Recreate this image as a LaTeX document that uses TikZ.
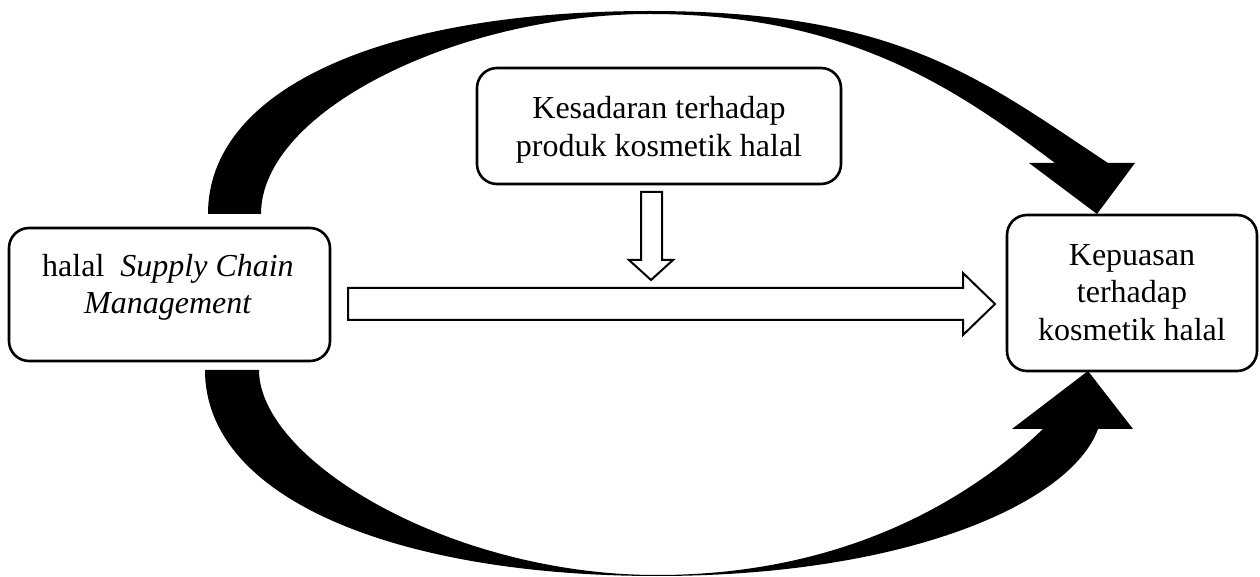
\documentclass[tikz,border=0pt]{standalone}
\usepackage{fontspec}
\setmainfont{Liberation Serif}
\begin{document}
\begin{tikzpicture}[x=0.5pt,y=-0.5pt,
  box/.style={draw,line width=1.3pt,rounded corners=10pt,inner sep=0pt,fill=white},
  boxtext/.style={align=center,inner sep=0pt,font=\fontsize{16pt}{18.75pt}\selectfont},
  hollow/.style={draw,line width=1pt,fill=white,line join=miter},
  curvedband/.style={fill=black,draw=none}]
\useasboundingbox (0,0) rectangle (1260,577);

% the three variable boxes
\node[box,minimum width=160.5pt,minimum height=66.5pt] (lbox) at (169.5,294.5) {};
\node[box,minimum width=182pt,minimum height=58pt] (tbox) at (659,126) {};
\node[box,minimum width=125pt,minimum height=78pt] (rbox) at (1132,293) {};

\node[boxtext] (ltext) at (168,287.5) {halal\ \ \textit{Supply Chain}\\\textit{Management}};
\node[boxtext] (ttext) at (659,130) {Kesadaran terhadap\\produk kosmetik halal};
\node[boxtext] (rtext) at (1132,292.5) {Kepuasan\\terhadap\\kosmetik halal};

% upper curved arrow
\fill[curvedband] (208,214) .. controls (208,90) and (380,11) .. (650,11)
  .. controls (900,11) and (982,80) .. (1108,163)
  -- (1135,163) -- (1097,214) -- (1029,163) -- (1055,163)
  .. controls (959,91) and (850,14) .. (650,14)
  .. controls (460,14) and (261,110) .. (261,214) -- cycle;

% lower curved arrow
\fill[curvedband] (205,370) .. controls (205,500) and (400,576) .. (657,576)
  .. controls (907,576) and (1071,503) .. (1098,429)
  -- (1133,429) -- (1088,371) -- (1012,429) -- (1043,429)
  .. controls (974,495) and (850,575) .. (657,575)
  .. controls (450,575) and (259,460) .. (259,370) -- cycle;

% straight block arrows
\draw[hollow] (348,288) -- (963,288) -- (963,273) -- (995,304)
  -- (963,335) -- (963,320) -- (348,320) -- cycle;
\draw[hollow] (641,192) -- (662,192) -- (662,260) -- (673,260)
  -- (651,280) -- (629,260) -- (641,260) -- cycle;
\end{tikzpicture}
\end{document}
